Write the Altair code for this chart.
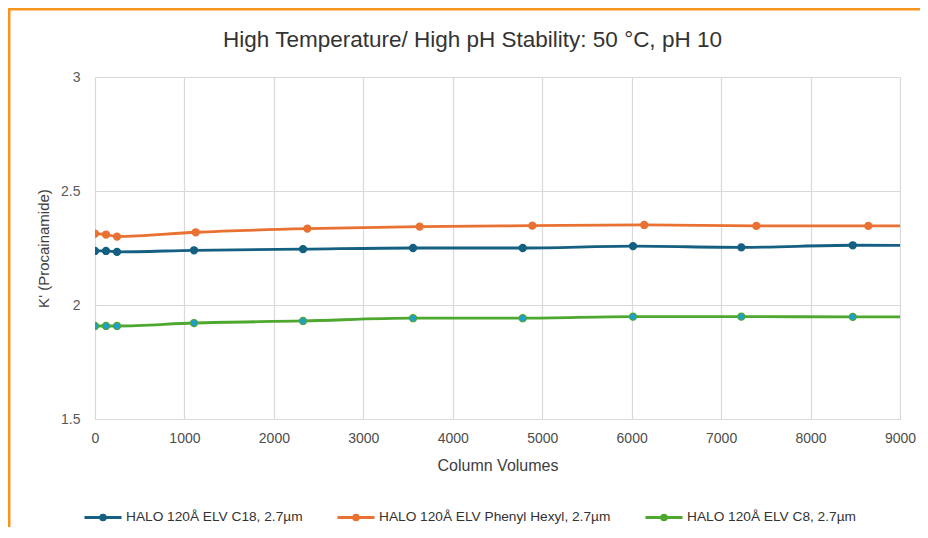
import altair as alt
import pandas as pd

# ---- data ----
series_names = [
    "HALO 120Å ELV C18, 2.7µm",
    "HALO 120Å ELV Phenyl Hexyl, 2.7µm",
    "HALO 120Å ELV C8, 2.7µm",
]
line_colors = ["#156082", "#E97132", "#4EA72E"]
marker_fills = ["#156082", "#E97132", "#1E9FD0"]

# last entry of each series lies just past the 9000 axis limit (clipped)
c18_cv = [0, 123, 246, 1107, 2326, 3556, 4782, 6015, 7226, 8472, 9717]
c18_k = [2.237, 2.237, 2.233, 2.240, 2.245, 2.250, 2.250, 2.258, 2.253, 2.262, 2.261]

ph_cv = [0, 123, 246, 1126, 2374, 3630, 4889, 6141, 7394, 8646, 9898]
ph_k = [2.313, 2.309, 2.300, 2.319, 2.335, 2.344, 2.348, 2.351, 2.347, 2.347, 2.348]

c8_cv = [0, 123, 246, 1107, 2326, 3556, 4782, 6015, 7226, 8472, 9717]
c8_k = [1.908, 1.908, 1.908, 1.921, 1.930, 1.942, 1.942, 1.949, 1.949, 1.948, 1.948]

x_ticks = [0, 1000, 2000, 3000, 4000, 5000, 6000, 7000, 8000, 9000]
y_ticks = [1.5, 2, 2.5, 3]

title_text = "High Temperature/ High pH Stability: 50 °C, pH 10"
x_title = "Column Volumes"
y_title = "K' (Procainamide)"

# ---- build table ----
rows = []
for name, cvs, ks in zip(series_names, [c18_cv, ph_cv, c8_cv], [c18_k, ph_k, c8_k]):
    for i, (cv, k) in enumerate(zip(cvs, ks)):
        rows.append({"series": name, "cv": cv, "k": k, "order": i})
df = pd.DataFrame(rows)

FONT = "Liberation Sans"

color_scale = alt.Scale(domain=series_names, range=line_colors)
fill_scale = alt.Scale(domain=series_names, range=marker_fills)

x_enc = alt.X(
    "cv:Q",
    scale=alt.Scale(domain=[0, 9000], nice=False, zero=False),
    axis=alt.Axis(
        values=x_ticks, format="d", title=x_title, grid=True, domain=False,
        ticks=False, labelPadding=12, labelFontSize=14, labelFont=FONT,
        labelColor="#4d4d4d", titleFontSize=16, titleFont=FONT,
        titleFontWeight="normal", titleColor="#404040", titlePadding=12,
        gridColor="#d9d9d9", gridWidth=1.2, labelFlush=False,
    ),
)
y_enc = alt.Y(
    "k:Q",
    scale=alt.Scale(domain=[1.5, 3], nice=False, zero=False),
    axis=alt.Axis(
        values=y_ticks, format=".1~f", title=y_title, grid=True, domain=False,
        ticks=False, labelPadding=15, labelFontSize=14, labelFont=FONT,
        labelColor="#595959", titleFontSize=15, titleFont=FONT,
        titleFontWeight="normal", titleColor="#404040", titlePadding=9,
        gridColor="#d9d9d9", gridWidth=1.2, labelFlush=False,
    ),
)

legend_path = "M-1,0L1,0M-0.13,0A0.13,0.13,0,1,1,0.13,0A0.13,0.13,0,1,1,-0.13,0Z"

lines = alt.Chart(df).mark_line(
    interpolate="monotone", strokeWidth=2.8, clip=True
).encode(
    x=x_enc,
    y=y_enc,
    order="order:Q",
    color=alt.Color(
        "series:N",
        scale=color_scale,
        legend=alt.Legend(
            title=None, orient="none", direction="horizontal",
            legendX=-12, legendY=420, symbolType=legend_path,
            symbolSize=1369, symbolStrokeWidth=2.8, labelFontSize=13.7,
            labelFont=FONT, labelColor="#333333", labelOffset=3,
            columnPadding=28, labelLimit=400,
        ),
    ),
)

points = alt.Chart(df).mark_point(
    filled=True, size=50, strokeWidth=1.2, opacity=1, clip=True
).encode(
    x="cv:Q",
    y="k:Q",
    fill=alt.Fill("series:N", scale=fill_scale, legend=None),
    stroke=alt.Stroke("series:N", scale=color_scale, legend=None),
)

border_data = alt.Data(values=[{"b": 1}])
border_left = alt.Chart(border_data).mark_rule(
    color="#F7941D", strokeWidth=3, clip=False
).encode(x=alt.value(-86), y=alt.value(-70), y2=alt.value(520))
border_top = alt.Chart(border_data).mark_rule(
    color="#F7941D", strokeWidth=3, clip=False
).encode(x=alt.value(-87.5), x2=alt.value(850), y=alt.value(-68))

chart = alt.layer(lines, points, border_left, border_top).properties(
    width=805,
    height=342,
    autosize=alt.AutoSizeParams(type="none"),
    padding={"left": 87, "top": 69, "right": 20, "bottom": 108},
    title=alt.Title(
        title_text, fontSize=22.5, font=FONT, fontWeight="normal",
        color="#333333", anchor="middle", frame="group", dx=-25, offset=-46,
    ),
).configure_view(stroke=None).configure(background="white")

chart.save("out.html", embed_options={"renderer": "svg", "actions": False})
